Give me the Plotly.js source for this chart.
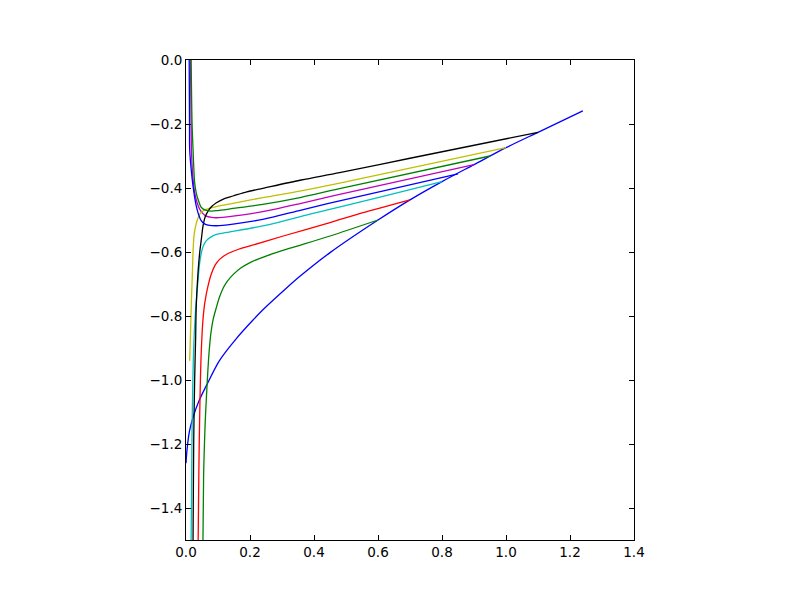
<!DOCTYPE html>
<html>
<head>
<meta charset="utf-8">
<script src="https://cdn.plot.ly/plotly-3.0.1.min.js"></script>
<style>
  html, body { margin: 0; padding: 0; background: #fff; }
  #chart { width: 800px; height: 600px; }
</style>
</head>
<body>
<div id="chart"></div>
<script>
// --- curve samples (x, y pairs per curve) ---
const blueLongX  = [0.0, 0.003, 0.0104, 0.021, 0.042, 0.0625, 0.104, 0.156, 0.208, 0.242, 0.3125, 0.356, 0.45, 0.6, 0.7, 0.8, 0.9, 1.0, 1.1, 1.24];
const blueLongY  = [-1.26, -1.22, -1.162, -1.12, -1.062, -1.02, -0.94, -0.872, -0.814, -0.779, -0.714, -0.676, -0.602, -0.5, -0.437, -0.38, -0.327, -0.274, -0.226, -0.159];

const greenLowX  = [0.053, 0.055, 0.057, 0.06, 0.064, 0.068, 0.072, 0.078, 0.085, 0.095, 0.105, 0.117, 0.13, 0.148, 0.17, 0.2, 0.252, 0.3, 0.356, 0.45, 0.6];
const greenLowY  = [-1.5, -1.3, -1.22, -1.133, -1.05, -0.977, -0.915, -0.852, -0.81, -0.773, -0.74, -0.711, -0.69, -0.67, -0.651, -0.633, -0.612, -0.596, -0.579, -0.55, -0.5];

const redX       = [0.038, 0.0395, 0.041, 0.043, 0.045, 0.047, 0.052, 0.056, 0.061, 0.068, 0.078, 0.091, 0.105, 0.127, 0.16, 0.2, 0.304, 0.45, 0.55, 0.7];
const redY       = [-1.5, -1.35, -1.22, -1.1, -1.0, -0.93, -0.825, -0.78, -0.745, -0.71, -0.672, -0.641, -0.623, -0.607, -0.593, -0.581, -0.55, -0.508, -0.478, -0.437];

const cyanX      = [0.016, 0.019, 0.024, 0.03, 0.035, 0.04, 0.044, 0.049, 0.054, 0.063, 0.075, 0.095, 0.127, 0.252, 0.3875, 0.6, 0.8];
const cyanY      = [-1.5, -1.15, -0.9, -0.78, -0.72, -0.66, -0.625, -0.598, -0.581, -0.565, -0.555, -0.545, -0.539, -0.516, -0.482, -0.43, -0.38];

const magentaX   = [0.014, 0.016, 0.017, 0.021, 0.027, 0.035, 0.043, 0.053, 0.063, 0.08, 0.095, 0.147, 0.24, 0.36, 0.48, 0.9];
const magentaY   = [0, -0.2, -0.28, -0.36, -0.414, -0.447, -0.467, -0.48, -0.488, -0.492, -0.493, -0.488, -0.474, -0.448, -0.42, -0.327];

const yellowX    = [0.0115, 0.0135, 0.017, 0.02, 0.022, 0.025, 0.03, 0.037, 0.043, 0.053, 0.063, 0.095, 0.147, 0.24, 0.36, 0.48, 1.0];
const yellowY    = [-0.94, -0.873, -0.75, -0.665, -0.6, -0.55, -0.519, -0.495, -0.482, -0.472, -0.467, -0.458, -0.448, -0.43, -0.409, -0.385, -0.274];

const blackX     = [0.022, 0.024, 0.027, 0.03, 0.032, 0.0375, 0.043, 0.048, 0.053, 0.06, 0.069, 0.08, 0.095, 0.12, 0.147, 0.19, 0.24, 0.36, 0.48, 0.7, 1.1];
const blackY     = [-1.5, -1.2, -1.0, -0.873, -0.77, -0.665, -0.6, -0.56, -0.52, -0.49, -0.472, -0.458, -0.446, -0.433, -0.425, -0.412, -0.401, -0.375, -0.352, -0.307, -0.226];

const blueShortX = [0.010, 0.011, 0.0115, 0.016, 0.022, 0.032, 0.04, 0.048, 0.058, 0.069, 0.095, 0.147, 0.24, 0.36, 0.48, 0.85];
const blueShortY = [0, -0.2, -0.279, -0.34, -0.394, -0.456, -0.485, -0.503, -0.512, -0.516, -0.518, -0.513, -0.498, -0.469, -0.44, -0.356];

const greenTopX  = [0.016, 0.019, 0.022, 0.027, 0.032, 0.0375, 0.048, 0.063, 0.08, 0.095, 0.147, 0.24, 0.36, 0.48, 0.95];
const greenTopY  = [0, -0.2, -0.279, -0.383, -0.415, -0.435, -0.461, -0.47, -0.472, -0.471, -0.464, -0.451, -0.429, -0.402, -0.3];

// matplotlib classic cycle: b g r c m y k b g
const curves = [
  [blueLongX, blueLongY, '#0000ff'],
  [greenLowX, greenLowY, '#008000'],
  [redX, redY, '#ff0000'],
  [cyanX, cyanY, '#00bfbf'],
  [magentaX, magentaY, '#bf00bf'],
  [yellowX, yellowY, '#bfbf00'],
  [blackX, blackY, '#000000'],
  [blueShortX, blueShortY, '#0000ff'],
  [greenTopX, greenTopY, '#008000']
];

const traces = curves.map(c => ({
  x: c[0], y: c[1], type: 'scatter', mode: 'lines',
  line: { color: c[2], width: 1.3, shape: 'spline', smoothing: 0.8 },
  showlegend: false, hoverinfo: 'skip'
}));

const axisStyle = {
  showgrid: false, zeroline: false,
  showline: true, linecolor: '#000', linewidth: 1, mirror: 'ticks',
  ticks: 'inside', ticklen: 5, tickwidth: 1, tickcolor: '#000',
  tickformat: '.1f', dtick: 0.2, tick0: 0,
  tickfont: { family: 'DejaVu Sans', size: 13.5, color: '#000' }
};

Plotly.newPlot('chart', traces, {
  width: 800, height: 600,
  paper_bgcolor: '#fff', plot_bgcolor: '#fff',
  margin: { l: 186, r: 166, t: 60, b: 60 },
  xaxis: Object.assign({}, axisStyle, { range: [0, 1.4] }),
  yaxis: Object.assign({}, axisStyle, { range: [-1.5, 0] })
}, { displayModeBar: false, staticPlot: true });
</script>
</body>
</html>
